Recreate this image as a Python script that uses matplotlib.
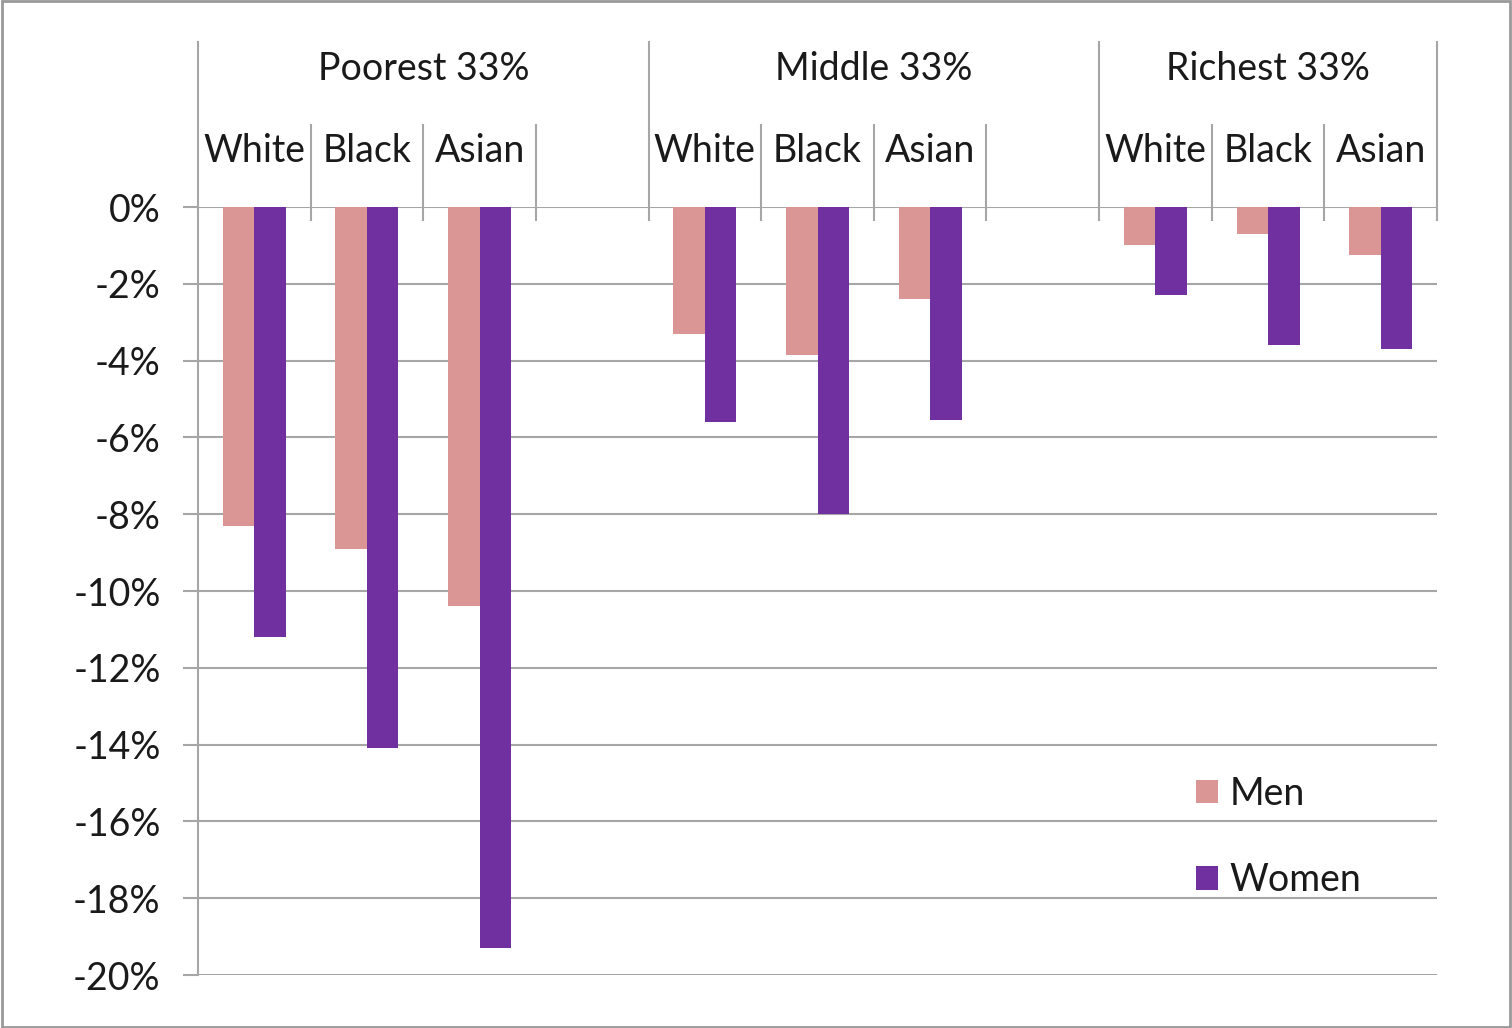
import numpy as np
import matplotlib.pyplot as plt
from matplotlib.patches import Rectangle

# Data (percent change)
groups = ["Poorest 33%", "Middle 33%", "Richest 33%"]
races = ["White", "Black", "Asian"]
men = [-8.3, -8.9, -10.4, -3.3, -3.85, -2.4, -1.0, -0.7, -1.25]
women = [-11.2, -14.1, -19.3, -5.6, -8.0, -5.55, -2.3, -3.6, -3.7]
yticks = [0, -2, -4, -6, -8, -10, -12, -14, -16, -18, -20]

MEN_COLOR = "#D99694"
WOMEN_COLOR = "#7030A0"
GRID = "#A6A6A6"
TXT = "#1A1A1A"

plt.rcParams["font.family"] = ["Lato", "DejaVu Sans"]
FS = 27

fig = plt.figure(figsize=(15.12, 10.28), dpi=100)
ax = fig.add_axes([198 / 1512, 1 - 975 / 1028, (1437 - 198) / 1512, (975 - 207) / 1028])

# slot layout: 3 races + 1 blank per group, last group has no blank
slots = []
for g in range(len(groups)):
    for r in range(len(races)):
        slots.append(g * 4 + r)
slots = np.array(slots, dtype=float)

bw = 0.28
ax.bar(slots + 0.5 - bw / 2, men, width=bw, color=MEN_COLOR, label="Men", zorder=3)
ax.bar(slots + 0.5 + bw / 2, women, width=bw, color=WOMEN_COLOR, label="Women", zorder=3)

ax.set_xlim(0, 11)
ax.set_ylim(-20, 0)
ax.set_yticks(yticks)
ax.set_yticklabels([f"{v}%" for v in yticks], fontsize=FS, color=TXT)
ax.tick_params(axis="y", length=11, width=1.5, color=GRID, pad=16)
ax.set_xticks([])
for s in ["top", "right", "bottom"]:
    ax.spines[s].set_visible(False)
ax.spines["left"].set_color(GRID)
ax.spines["left"].set_linewidth(1.5)
ax.grid(axis="y", color=GRID, linewidth=1.5, zorder=0)
ax.set_axisbelow(True)

# multi-level category axis above zero
unit = 768 / 20.0  # px per percent
y_lvl1 = (207 - 125) / unit
y_top = (207 - 42) / unit
y_below = -(220 - 207) / unit
lw = 1.5
ax.plot([0, 0], [0, y_top], color=GRID, lw=lw, clip_on=False)
for x in range(1, 12):
    if x in (4, 8, 11):
        ax.plot([x, x], [y_below, y_top], color=GRID, lw=lw, clip_on=False)
    else:
        ax.plot([x, x], [y_below, y_lvl1], color=GRID, lw=lw, clip_on=False)

for s in slots:
    ax.text(s + 0.5, (207 - 151) / unit, races[int(s) % 4], ha="center", va="center",
            fontsize=FS, color=TXT, clip_on=False)
group_centers = [2.0, 6.0, 9.5]
for gx, gname in zip(group_centers, groups):
    ax.text(gx, (207 - 69) / unit, gname, ha="center", va="center",
            fontsize=FS, color=TXT, clip_on=False)

leg = ax.legend(loc="upper left", bbox_to_anchor=(1162 / 1512, 1 - 742 / 1028),
                bbox_transform=fig.transFigure, frameon=False, fontsize=FS,
                handlelength=0.6, handleheight=0.6, handletextpad=0.3, labelspacing=1.35)
for t in leg.get_texts():
    t.set_color(TXT)

# outer border
fig.patches.append(Rectangle((0.001, 0.001), 0.998, 0.998, transform=fig.transFigure,
                             fill=False, edgecolor="#999999", linewidth=2))

fig.savefig("out.png", dpi=100)
